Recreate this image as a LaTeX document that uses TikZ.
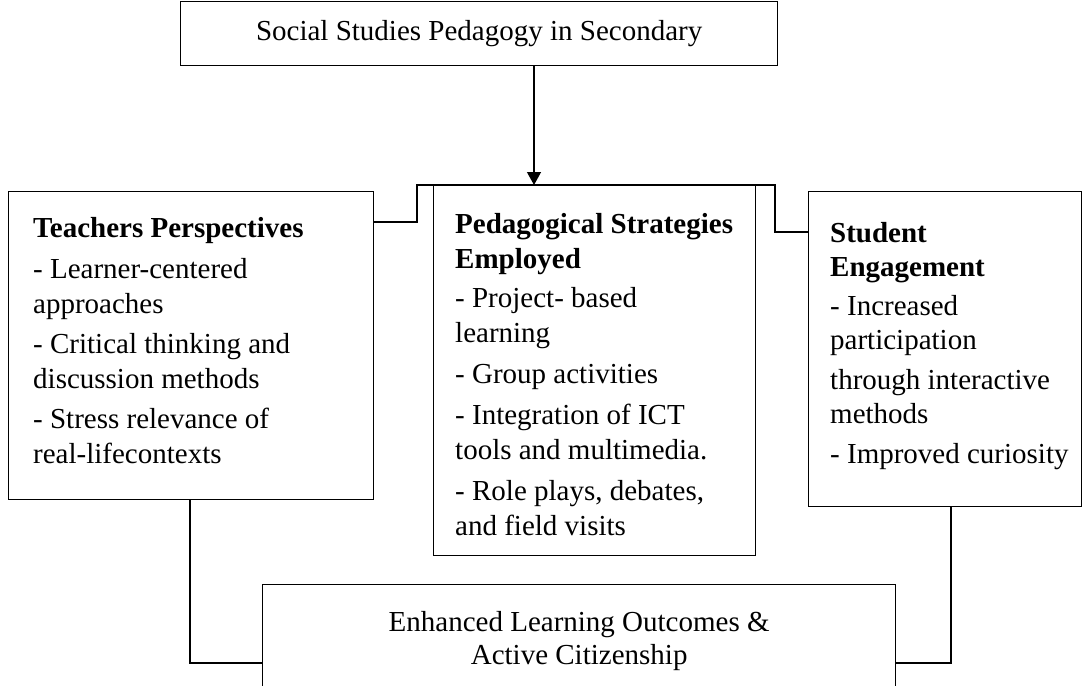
\documentclass[tikz,border=0pt]{standalone}
\usepackage{fontspec}
\setmainfont{Liberation Serif}[Ligatures=NoCommon]
\usetikzlibrary{arrows.meta}
\begin{document}
\begin{tikzpicture}[x=1pt,y=-1pt,
  box/.style={draw, line width=1.3pt, inner sep=0pt, anchor=north west, rectangle},
  txt/.style={anchor=north west, inner sep=0pt, align=left},
  conn/.style={draw, line width=1.3pt},
  arr/.style={conn, -{Triangle[length=13pt,width=14pt]}},
  bigfont/.style={font=\fontsize{29}{33}\selectfont}
]
\useasboundingbox (0,0) rectangle (1083,685);
% boxes
\node[box, bigfont, minimum width=597pt, minimum height=64pt] (top) at (180,1) {Social Studies Pedagogy in Secondary};
\node[box, minimum width=365pt, minimum height=308pt] (tp) at (8,191) {};
\node[box, minimum width=322pt, minimum height=370pt] (mid) at (433,185) {};
\node[box, minimum width=273pt, minimum height=315pt] (se) at (808,191) {};
\node[box, bigfont, align=center, minimum width=633pt, minimum height=112pt] (out) at (262,584) {Enhanced Learning Outcomes \&\\[0pt] Active Citizenship};
% texts
\node[txt, font=\fontsize{29}{35}\selectfont] (tptext) at (33,217) {\textbf{Teachers Perspectives}\\[6pt]
- Learner-centered\\
approaches\\[5pt]
- Critical thinking and\\
discussion methods\\[5pt]
- Stress relevance of\\
real-lifecontexts};
\node[txt, font=\fontsize{29}{35}\selectfont] (midtext) at (455,213) {\textbf{Pedagogical Strategies}\\
\textbf{Employed}\\[4pt]
- Project- based\\
learning\\[6pt]
- Group activities\\[6pt]
- Integration of ICT\\
tools and multimedia.\\[6pt]
- Role plays, debates,\\
and field visits};
\node[txt, font=\fontsize{29}{34}\selectfont] (setext) at (830,222) {\textbf{Student}\\
\textbf{Engagement}\\[5pt]
- Increased\\
participation\\[6pt]
through interactive\\
methods\\[6pt]
- Improved curiosity};
% connectors
\coordinate (ax) at (534,0);
\draw[arr] (top.south -| ax) -- (mid.north -| ax);
\coordinate (bl) at (417,222);
\coordinate (br) at (775,232);
\draw[conn] (tp.east |- bl) -- (bl) |- (mid.north) -| (br) -- (se.west |- br);
\coordinate (cl) at (190,663);
\coordinate (cr) at (951,663);
\draw[conn] (tp.south -| cl) -- (cl) -- (out.west |- cl);
\draw[conn] (se.south -| cr) -- (cr) -- (out.east |- cr);
\end{tikzpicture}
\end{document}
